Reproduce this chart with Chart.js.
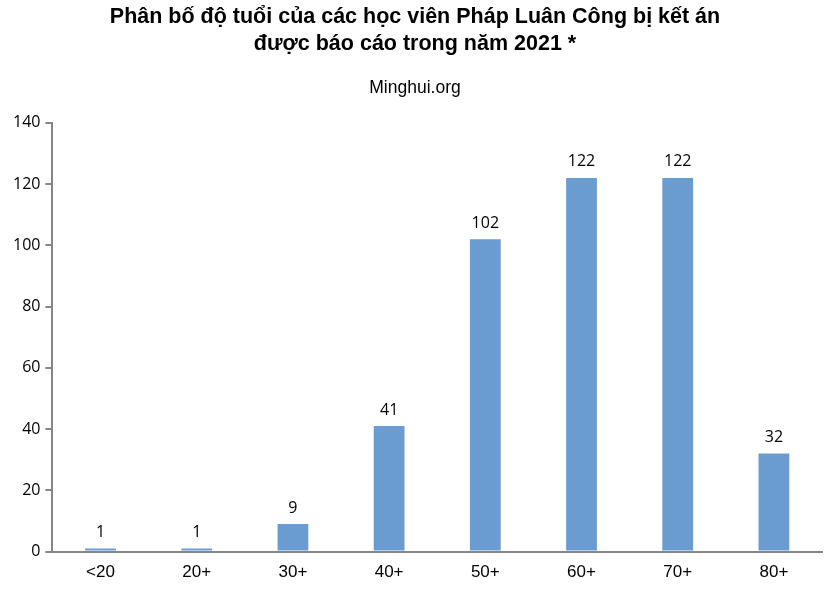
<!DOCTYPE html>
<html>
<head>
<meta charset="utf-8">
<script src="https://cdn.jsdelivr.net/npm/chart.js@4"></script>
<style>
  html, body { margin: 0; padding: 0; background: #fff; }
  #wrap { width: 832px; height: 594px; position: relative; }
</style>
</head>
<body>
<div id="wrap"><canvas id="c" width="832" height="594"></canvas></div>
<script>
// dữ liệu
const ageGroups = ['<20', '20+', '30+', '40+', '50+', '60+', '70+', '80+']
const counts = [1, 1, 9, 41, 102, 122, 122, 32]
const yTicks = [0, 20, 40, 60, 80, 100, 120, 140]

const titleLines = ['Phân bố độ tuổi của các học viên Pháp Luân Công bị kết án', 'được báo cáo trong năm 2021 *']
const subtitleText = 'Minghui.org'

const axisGrey = '#868686'
const barBlue = '#6a9bd1'

// nhãn số trên đầu cột
const valueLabels = {
  id: 'valueLabels',
  afterDatasetsDraw(chart) {
    const ctx = chart.ctx
    const meta = chart.getDatasetMeta(0)
    ctx.save()
    ctx.font = '16px "Open Sans", "Noto Sans", sans-serif'
    ctx.fillStyle = '#000'
    ctx.textAlign = 'center'
    ctx.textBaseline = 'bottom'
    meta.data.forEach((bar, i) => {
      ctx.fillText(String(counts[i]), bar.x, bar.y - 8)
    })
    ctx.restore()
  }
}

new Chart(document.getElementById('c'), {
  type: 'bar',
  data: {
    labels: ageGroups,
    datasets: [{ data: counts, backgroundColor: barBlue, borderWidth: 0, categoryPercentage: 1, barPercentage: 0.32 }]
  },
  options: {
    responsive: false,
    animation: false,
    layout: { padding: { left: 8, right: 10, top: 0, bottom: 0 } },
    plugins: {
      legend: { display: false },
      tooltip: { enabled: false },
      title: {
        display: true, text: titleLines, color: '#000',
        font: { family: '"Liberation Sans", Arial, sans-serif', size: 21.5, weight: 'bold', lineHeight: 1.25 },
        padding: { top: 4, bottom: 20 }
      },
      subtitle: {
        display: true, text: subtitleText, color: '#000',
        font: { family: '"Liberation Sans", Arial, sans-serif', size: 17.5, lineHeight: 1.2 },
        padding: { top: 0, bottom: 24 }
      }
    },
    scales: {
      x: {
        grid: { display: false, drawTicks: false },
        border: { color: axisGrey, width: 2 },
        ticks: { color: '#000', padding: 11, font: { family: '"Liberation Sans Narrow", "Liberation Sans", Arial, sans-serif', size: 17 } }
      },
      y: {
        min: 0, max: 140,
        afterBuildTicks: (axis) => { axis.ticks = yTicks.map(v => ({ value: v })) },
        grid: { drawOnChartArea: false, color: axisGrey, lineWidth: 2, tickLength: 7 },
        border: { color: axisGrey, width: 2 },
        ticks: { color: '#000', padding: 5, font: { family: '"Open Sans", "Noto Sans", sans-serif', size: 16 } }
      }
    }
  },
  plugins: [valueLabels]
})
</script>
</body>
</html>
